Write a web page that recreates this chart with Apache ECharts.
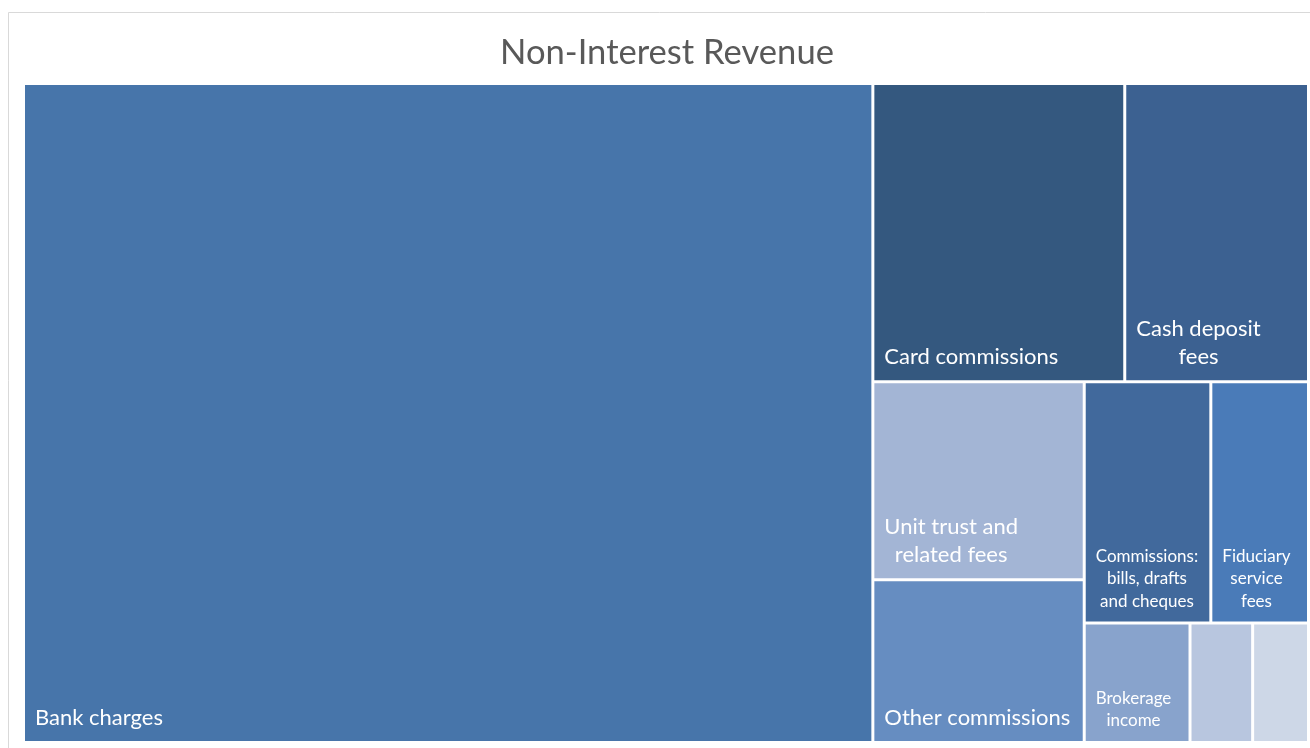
<!DOCTYPE html>
<html><head><meta charset="utf-8">
<script src="https://cdn.jsdelivr.net/npm/echarts@6/dist/echarts.min.js"></script>
<style>html,body{margin:0;padding:0;background:#fff}#chart{width:1310px;height:748px}</style>
</head><body><div id="chart"></div>
<script>
// ---- data ----
const titleText = 'Non-Interest Revenue';
const categories = ['Bank charges', 'Card commissions', 'Cash deposit fees', 'Unit trust and related fees',
  'Other commissions', 'Commissions: bills, drafts and cheques', 'Fiduciary service fees', 'Brokerage income', '', ''];
const values = [553.5, 74.3, 54.2, 41.4, 34.0, 30.2, 23.3, 12.5, 7.4, 6.6];
const labelLines = [['Bank charges'], ['Card commissions'], ['Cash deposit', 'fees'], ['Unit trust and', 'related fees'],
  ['Other commissions'], ['Commissions:', 'bills, drafts', 'and cheques'], ['Fiduciary', 'service', 'fees'], ['Brokerage', 'income'], [], []];

// ---- styles ----
const colors = ['#4775AA', '#34587F', '#3C6191', '#A3B5D5', '#668DC1', '#41699C', '#4A7BB8', '#88A3CC', '#B8C6DF', '#CDD7E7'];
const smallLabel = new Set([5, 6, 7]);
const FONT = 'Lato, "Open Sans", sans-serif';
const LABEL_PAD = 10, LABEL_BOTTOM = 9;

const data = categories.map((name, i) => ({
  name: name,
  value: values[i],
  k: i,
  itemStyle: { color: colors[i] }
}));

const frame = { id: 'frame', type: 'rect', shape: { x: 8.5, y: 12.5, width: 1310, height: 750 },
  style: { fill: 'none', stroke: '#D9D9D9', lineWidth: 1 }, silent: true, z: -1 };

const chart = echarts.init(document.getElementById('chart'), null, { renderer: 'canvas' });
chart.setOption({
  animation: false,
  backgroundColor: '#fff',
  title: {
    text: titleText, left: 662, top: 30, textAlign: 'center',
    textStyle: { fontSize: 34.6, fontWeight: 'normal', color: '#595959', fontFamily: FONT }
  },
  graphic: [frame],
  tooltip: { show: false },
  series: [{
    type: 'treemap',
    left: 25, top: 85, width: 1282, height: 656,
    roam: false, nodeClick: false,
    breadcrumb: { show: false },
    squareRatio: 0.5 * (1 + Math.sqrt(5)),
    sort: 'desc',
    levels: [
      { itemStyle: { gapWidth: 3, borderWidth: 0, borderColor: '#fff' } },
      { itemStyle: { borderWidth: 0 } }
    ],
    emphasis: { disabled: true },
    label: { show: false },
    data: data
  }]
});

// Labels placed from the treemap's own computed layout (bottom-left of each cell).
const seriesModel = chart.getModel().getSeriesByIndex(0);
const tree = seriesModel.getData().tree;
const info = seriesModel.layoutInfo;
const texts = [];
tree.root.children.forEach((node, idx) => {
  const k = node.getModel().get('k');
  const i = (k == null) ? idx : k;
  const lines = labelLines[i];
  if (!lines || !lines.length) return;
  const L = node.getLayout();
  const key = smallLabel.has(i) ? 's' : 'b';
  texts.push({
    type: 'text', silent: true, z: 100,
    x: info.x + L.x + LABEL_PAD,
    y: info.y + L.y + L.height - LABEL_BOTTOM,
    style: {
      text: lines.map(l => '{' + key + '|' + l + '}').join('\n'),
      align: 'left', verticalAlign: 'bottom', fill: '#fff',
      rich: {
        b: { fontSize: 22, lineHeight: 28, align: 'center', fill: '#fff', fontFamily: FONT },
        s: { fontSize: 17, lineHeight: 22.5, align: 'center', fill: '#fff', fontFamily: FONT }
      }
    }
  });
});
chart.setOption({ graphic: [frame].concat(texts) });
</script></body></html>
